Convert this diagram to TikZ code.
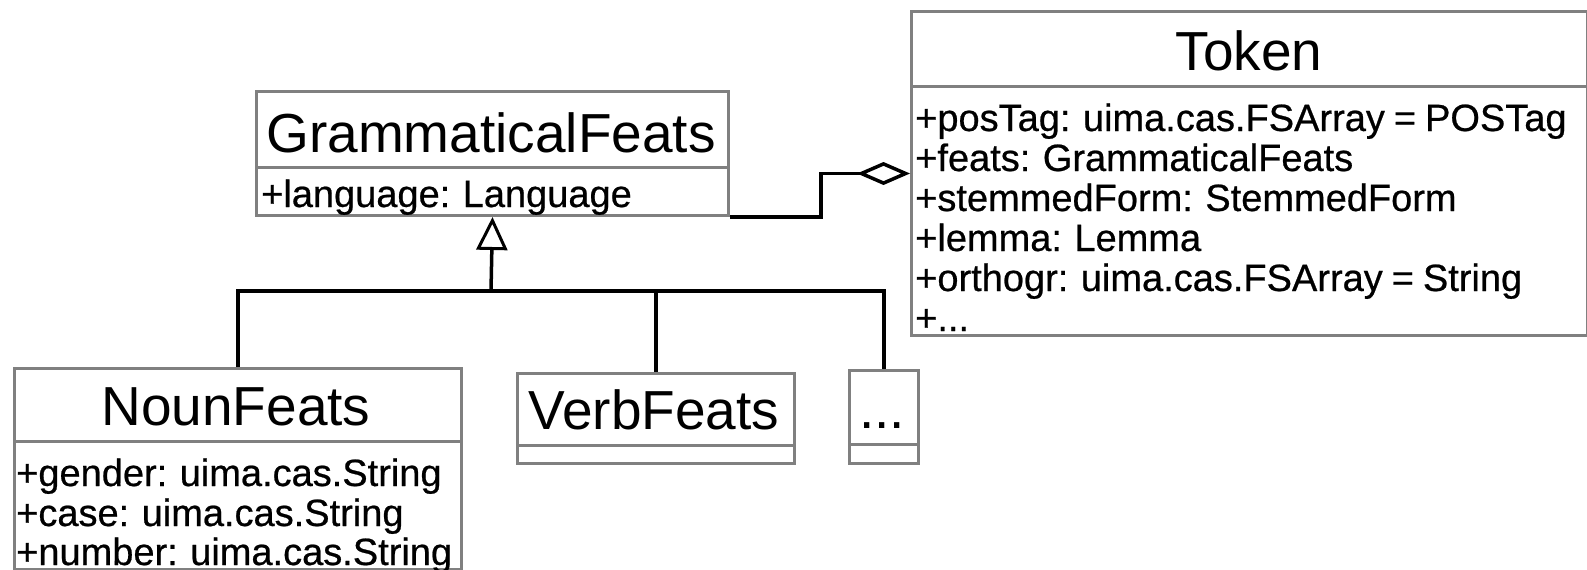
\documentclass[tikz,border=0pt]{standalone}
\usepackage{fontspec}
\setmainfont{Liberation Sans}
\newfontfamily\attrfont[FakeBold=0.6, WordSpace=0.85]{Liberation Sans}
\usetikzlibrary{arrows.meta}
\tikzset{
  box/.style={draw=boxgray, line width=3pt, inner sep=0pt, anchor=north west},
  divider/.style={draw=boxgray, line width=3pt},
  conn/.style={draw=black, line width=3.5pt},
  ctitle/.style={inner sep=0pt, anchor=base, font=\fontsize{55}{60}\selectfont},
  attr/.style={inner sep=0pt, anchor=base west, font=\attrfont\fontsize{38}{40}\selectfont},
}
\definecolor{boxgray}{RGB}{128,128,128}
\begin{document}
\begin{tikzpicture}[x=1pt,y=-1pt]
\useasboundingbox (0,0) rectangle (1587,570);
% Token
\node[box, minimum width=676pt, minimum height=324pt] (tok) at (910,10) {};
\draw[divider] (910,86) -- (1586,86);
\node[ctitle] (toktitle) at (1249,70) {Token};
\node[attr] (t1) at (915,131) {+posTag: uima.cas.FSArray = POSTag};
\node[attr] (t2) at (915,171) {+feats: GrammaticalFeats};
\node[attr] (t3) at (915,211) {+stemmedForm: StemmedForm};
\node[attr] (t4) at (915,251) {+lemma: Lemma};
\node[attr] (t5) at (915,291) {+orthogr: uima.cas.FSArray = String};
\node[attr] (t6) at (915,331) {+...};
% GrammaticalFeats
\node[box, minimum width=472pt, minimum height=124pt] (gf) at (255,90) {};
\draw[divider] (255,167) -- (727,167);
\node[ctitle] (gftitle) at (491,152) {GrammaticalFeats};
\node[attr] (g1) at (261,207) {+language: Language};
% NounFeats
\node[box, minimum width=447pt, minimum height=201pt] (nf) at (13,367) {};
\draw[divider] (13,441) -- (460,441);
\node[ctitle] (nftitle) at (236,425) {NounFeats};
\node[attr] (n1) at (16,486) {+gender: uima.cas.String};
\node[attr] (n2) at (16,526) {+case: uima.cas.String};
\node[attr] (n3) at (16,565) {+number: uima.cas.String};
% VerbFeats
\node[box, minimum width=277pt, minimum height=90pt] (vf) at (516,372) {};
\draw[divider] (516,445) -- (793,445);
\node[ctitle] (vftitle) at (654,429) {VerbFeats};
% ...
\node[box, minimum width=69pt, minimum height=93pt] (etc) at (848,369) {};
\draw[divider] (848,444) -- (917,444);
\node[ctitle] (etctitle) at (882,428) {...};
% inheritance
\coordinate (hub) at (491,291);
\draw[conn, -{Triangle[open, length=33pt, width=31pt, line width=3pt]}] (hub) -- (gf.south);
\draw[conn] (nf.north) |- (hub) -| (vf.north);
\draw[conn] (hub) -| (etc.north);
% aggregation
\draw[conn, -{Diamond[open, length=53pt, width=23pt, line width=3.5pt]}] (gf.south east) -- ++(91,0) |- (tok.west);
\end{tikzpicture}
\end{document}
